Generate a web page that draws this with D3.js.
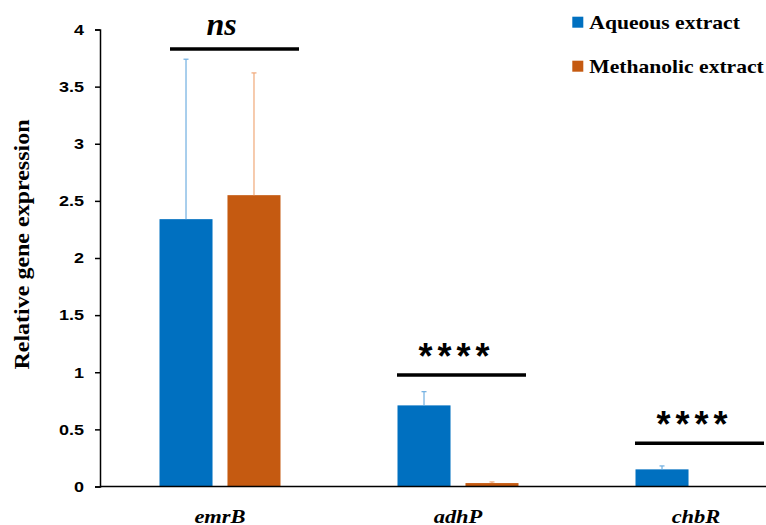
<!DOCTYPE html>
<html>
<head>
<meta charset="utf-8">
<script src="https://cdn.jsdelivr.net/npm/d3@7"></script>
<style>
  body { margin: 0; background: #fff; }
  svg { display: block; }
</style>
</head>
<body>
<div id="chart"></div>
<script>
// data
const genes = ["emrB", "adhP", "chbR"];
const series = ["Aqueous extract", "Methanolic extract"];
const aqueous = [2.34, 0.71, 0.15];
const aqueousErr = [1.40, 0.12, 0.03];
const methanolic = [2.55, 0.03, 0];
const methanolicErr = [1.07, 0.01, 0];
const yTicks = [0, 0.5, 1, 1.5, 2, 2.5, 3, 3.5, 4];
const sigLabels = ["ns", "****", "****"];
const sigLevels = [3.83, 0.975, 0.378];

const W = 766, H = 525;
const colors = {"Aqueous extract": "#0070C0", "Methanolic extract": "#C55A11"};
const errColors = {"Aqueous extract": "#6FAEE0", "Methanolic extract": "#F0A878"};

// bar table
const rows = [];
genes.forEach((g, i) => {
  rows.push({gene: g, s: series[0], v: aqueous[i], e: aqueousErr[i]});
  rows.push({gene: g, s: series[1], v: methanolic[i], e: methanolicErr[i]});
});

const svg = d3.select("#chart").append("svg")
  .attr("width", W)
  .attr("height", H);

// plot runs past the right edge (figure is cropped)
const x0 = d3.scaleBand().domain(genes).range([101, 815]);
const x1 = d3.scaleBand().domain(series)
  .range([x0.bandwidth() / 2 - 60.5, x0.bandwidth() / 2 + 60.5])
  .paddingInner(0.22);
const y = d3.scaleLinear().domain([0, 4]).range([486.5, 29.5]);

// bars
svg.append("g").selectAll("rect")
  .data(rows)
  .join("rect")
  .attr("x", d => x0(d.gene) + x1(d.s))
  .attr("y", d => y(d.v))
  .attr("width", x1.bandwidth())
  .attr("height", d => y(0) - y(d.v))
  .attr("fill", d => colors[d.s]);

// error bars (plus only)
const eb = svg.append("g").selectAll("g")
  .data(rows.filter(d => d.e > 0))
  .join("g")
  .attr("stroke", d => errColors[d.s])
  .attr("stroke-width", 1.2);
eb.append("line")
  .attr("x1", d => x0(d.gene) + x1(d.s) + x1.bandwidth() / 2)
  .attr("x2", d => x0(d.gene) + x1(d.s) + x1.bandwidth() / 2)
  .attr("y1", d => y(d.v))
  .attr("y2", d => y(d.v + d.e));
eb.append("line")
  .attr("x1", d => x0(d.gene) + x1(d.s) + x1.bandwidth() / 2 - 2.5)
  .attr("x2", d => x0(d.gene) + x1(d.s) + x1.bandwidth() / 2 + 2.5)
  .attr("y1", d => y(d.v + d.e))
  .attr("y2", d => y(d.v + d.e));

// y axis
const yAxis = svg.append("g")
  .attr("transform", "translate(100,0)")
  .call(d3.axisLeft(y).tickValues(yTicks).tickSize(5).tickFormat(d => String(d)));
yAxis.select(".domain").attr("stroke", "#000").attr("stroke-width", 1.5);
yAxis.selectAll(".tick line").attr("stroke", "#000").attr("stroke-width", 1.5);
yAxis.selectAll(".tick text")
  .attr("x", -13.4)
  .attr("transform", "scale(1.2,1)")
  .attr("font-family", "Liberation Sans, Arial, sans-serif")
  .attr("font-weight", "bold")
  .attr("font-size", "15px")
  .attr("fill", "#000");

// x axis line
svg.append("line")
  .attr("x1", 100).attr("x2", W)
  .attr("y1", y(0)).attr("y2", y(0))
  .attr("stroke", "#000").attr("stroke-width", 1.5);

// gene labels
svg.append("g").selectAll("text")
  .data(genes)
  .join("text")
  .attr("transform", d => `translate(${x0(d) + x0.bandwidth() / 2},522.5) scale(1.25,1)`)
  .attr("text-anchor", "middle")
  .attr("font-family", "Liberation Serif, Times New Roman, serif")
  .attr("font-weight", "bold")
  .attr("font-style", "italic")
  .attr("font-size", "18px")
  .text(d => d);

// y label
svg.append("text")
  .attr("transform", "translate(28.5,244.5) rotate(-90) scale(1.2,1)")
  .attr("text-anchor", "middle")
  .attr("font-family", "Liberation Serif, Times New Roman, serif")
  .attr("font-weight", "bold")
  .attr("font-size", "20px")
  .text("Relative gene expression");

// significance lines
const lineShift = [11, 0, 0];
const sig = svg.append("g").selectAll("g")
  .data(genes)
  .join("g");
sig.append("line")
  .attr("x1", (d, i) => x0(d) + x1(series[0]) + lineShift[i] - 0.5)
  .attr("x2", (d, i) => x0(d) + x1(series[0]) + lineShift[i] + 128.5)
  .attr("y1", (d, i) => y(sigLevels[i]))
  .attr("y2", (d, i) => y(sigLevels[i]))
  .attr("stroke", "#000")
  .attr("stroke-width", 3.5);
sig.append("text")
  .attr("x", (d, i) => x0(d) + x1(series[0]) + lineShift[i] + (sigLabels[i] === "ns" ? 51 : 59))
  .attr("y", (d, i) => y(sigLevels[i]) + (sigLabels[i] === "ns" ? -14 : -6))
  .attr("text-anchor", "middle")
  .attr("font-family", (d, i) => sigLabels[i] === "ns" ? "Liberation Serif, serif" : "Liberation Sans, Arial, sans-serif")
  .attr("font-weight", "bold")
  .attr("font-style", (d, i) => sigLabels[i] === "ns" ? "italic" : "normal")
  .attr("font-size", (d, i) => sigLabels[i] === "ns" ? "32px" : "36px")
  .attr("letter-spacing", (d, i) => sigLabels[i] === "ns" ? 0 : 5)
  .text((d, i) => sigLabels[i]);

// legend
const legend = svg.append("g").selectAll("g")
  .data(series)
  .join("g")
  .attr("transform", (d, i) => `translate(572.3,${16.7 + i * 44})`);
legend.append("rect")
  .attr("width", 11).attr("height", 11)
  .attr("fill", d => colors[d]);
legend.append("text")
  .attr("transform", "translate(17,12) scale(1.2,1)")
  .attr("font-family", "Liberation Serif, Times New Roman, serif")
  .attr("font-weight", "bold")
  .attr("font-size", "18px")
  .text(d => d);
</script>
</body>
</html>
